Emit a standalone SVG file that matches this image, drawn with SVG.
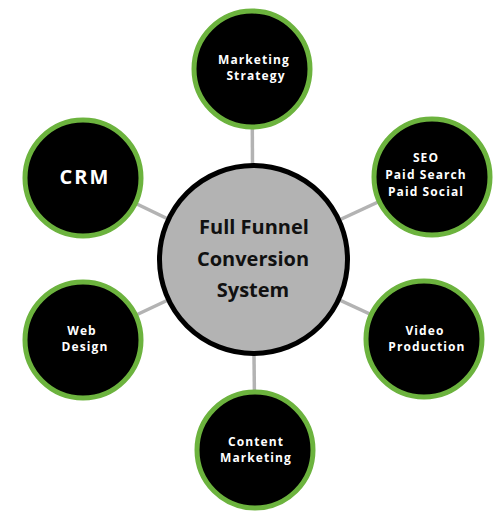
<svg xmlns="http://www.w3.org/2000/svg" width="500" height="530" viewBox="0 0 500 530">
<style>
.conn{stroke:#b3b3b3;stroke-width:3.5;fill:none}
.node{fill:#000;stroke:#6cb33e;stroke-width:5}
.lbl{font-family:"Open Sans","Liberation Sans",sans-serif;font-weight:700;font-size:12px;fill:#fff;text-anchor:middle;letter-spacing:1.1px}
.big{font-size:20px;letter-spacing:2px}
.core{fill:#b3b3b3;stroke:#000;stroke-width:5}
.ctxt{font-family:"Open Sans","Liberation Sans",sans-serif;font-weight:700;font-size:20px;fill:#111;text-anchor:middle}
</style>
<rect width="500" height="530" fill="#fff"/>
<g id="connectors">
<line class="conn" x1="253" y1="260" x2="252" y2="69"/>
<line class="conn" x1="253" y1="260" x2="432" y2="177"/>
<line class="conn" x1="253" y1="260" x2="83" y2="178"/>
<line class="conn" x1="253" y1="260" x2="83" y2="340"/>
<line class="conn" x1="253" y1="260" x2="424" y2="339"/>
<line class="conn" x1="253" y1="260" x2="255" y2="450"/>
</g>
<g id="core">
<circle class="core" cx="253.5" cy="259.5" r="94"/>
<text class="ctxt" x="254" y="234">Full Funnel</text>
<text class="ctxt" x="253" y="266">Conversion</text>
<text class="ctxt" x="253" y="297">System</text>
</g>
<g id="marketing-strategy">
<circle class="node" cx="252" cy="69" r="58"/>
<text class="lbl" x="254" y="64">Marketing</text>
<text class="lbl" x="256" y="80">Strategy</text>
</g>
<g id="seo">
<circle class="node" cx="432" cy="177" r="58"/>
<text class="lbl" x="426" y="162">SEO</text>
<text class="lbl" x="426" y="179">Paid Search</text>
<text class="lbl" x="426" y="196">Paid Social</text>
</g>
<g id="crm">
<circle class="node" cx="83" cy="178" r="58"/>
<text class="lbl big" x="85" y="184">CRM</text>
</g>
<g id="web-design">
<circle class="node" cx="83" cy="340" r="58"/>
<text class="lbl" x="82" y="335">Web</text>
<text class="lbl" x="85" y="351">Design</text>
</g>
<g id="video-production">
<circle class="node" cx="424" cy="339" r="58"/>
<text class="lbl" x="425" y="335">Video</text>
<text class="lbl" x="427" y="351">Production</text>
</g>
<g id="content-marketing">
<circle class="node" cx="255" cy="450" r="58"/>
<text class="lbl" x="256" y="446">Content</text>
<text class="lbl" x="256" y="462">Marketing</text>
</g>
</svg>
